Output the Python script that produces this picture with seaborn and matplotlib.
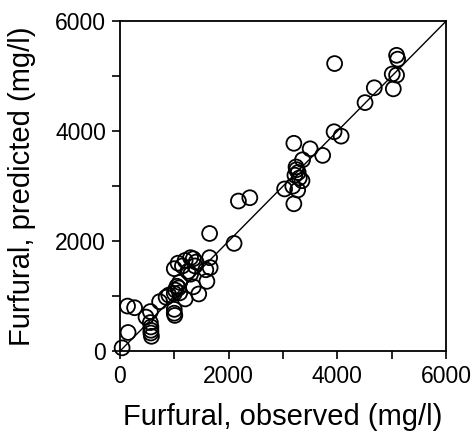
import matplotlib
matplotlib.use("Agg")
import matplotlib.pyplot as plt
import seaborn as sns
import pandas as pd

observed = [40, 150, 140, 270, 480, 560, 560, 570, 570, 570, 580, 730, 850, 900,
            1000, 1000, 1010, 1000, 1020, 1050, 1080, 1100, 1000, 1070, 1150, 1200,
            1250, 1300, 1350, 1400, 1380, 1300, 1200, 1100, 1350, 1450, 1580, 1600,
            1650, 1660, 1650, 2100, 2180, 2390, 3030, 3200, 3200, 3180, 3220, 3250,
            3280, 3300, 3240, 3350, 3270, 3360, 3500, 3730, 3950, 3940, 4070, 4510,
            4680, 5010, 5090, 5030, 5090, 5110]
predicted = [60, 340, 820, 790, 620, 720, 520, 440, 380, 330, 270, 900, 980, 1020,
             760, 690, 650, 1050, 1110, 1180, 1150, 1060, 1500, 1600, 1550, 1650,
             1450, 1700, 1680, 1620, 1550, 1400, 950, 1250, 1170, 1040, 1480, 1270,
             1700, 1520, 2140, 1960, 2730, 2790, 2950, 3780, 2680, 3000, 3200, 3300,
             3250, 3150, 3350, 3100, 2930, 3480, 3680, 3560, 5230, 3990, 3910, 4520,
             4790, 5040, 5020, 4770, 5380, 5310]
ticks = [0, 2000, 4000, 6000]
minor_ticks = [1000, 3000, 5000]

df = pd.DataFrame({"observed": observed, "predicted": predicted})

sns.set_style("white")
plt.rcParams['font.family'] = ['Liberation Sans', 'DejaVu Sans']
plt.rcParams['text.color'] = 'black'
plt.rcParams['axes.labelcolor'] = 'black'
plt.rcParams['xtick.color'] = 'black'
plt.rcParams['ytick.color'] = 'black'

fig = plt.figure(figsize=(4.74, 4.33), dpi=100)
ax = fig.add_axes([0.253, 0.189, 0.688, 0.762])

ax.plot([0, 6000], [0, 6000], color="black", lw=1.0, zorder=1)
sns.scatterplot(data=df, x="observed", y="predicted", ax=ax, marker="o", s=115,
                facecolor="none", edgecolor="black", linewidth=1.3, zorder=2,
                clip_on=False)

ax.set_xlim(0, 6000)
ax.set_ylim(0, 6000)
ax.set_xticks(ticks)
ax.set_yticks(ticks)
ax.set_xticks(minor_ticks, minor=True)
ax.set_yticks(minor_ticks, minor=True)
ax.tick_params(which="both", direction="out", length=6, width=1.2, color="black",
               labelsize=16.5, labelcolor="black", pad=4, bottom=True, left=True)
ax.set_xlabel("Furfural, observed (mg/l)", fontsize=21, labelpad=11)
ax.set_ylabel("Furfural, predicted (mg/l)", fontsize=21, labelpad=14)
for sp in ax.spines.values():
    sp.set_color("black")
    sp.set_linewidth(1.3)

fig.savefig("out.png", dpi=100)
